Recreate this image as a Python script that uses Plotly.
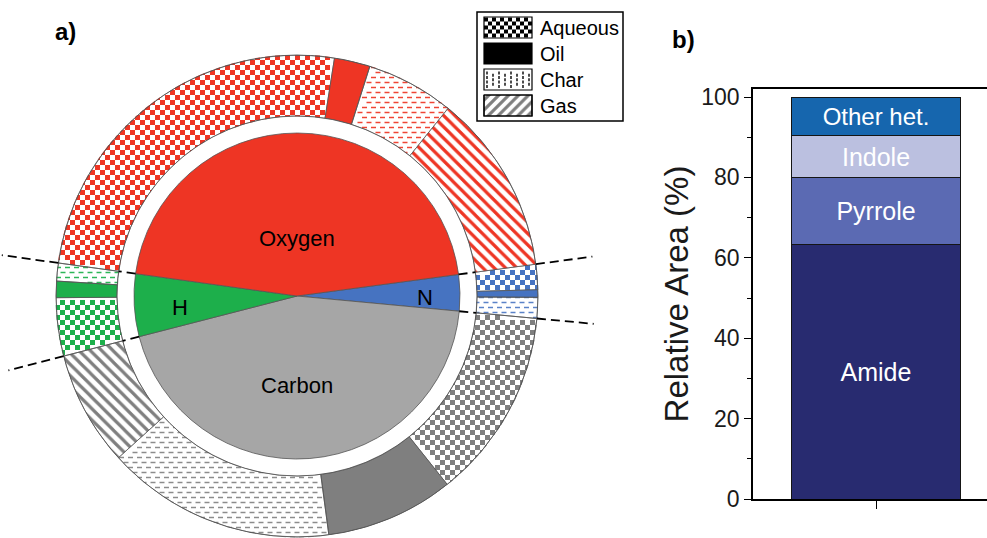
import numpy as np
import plotly.graph_objects as go

W, H = 987, 538
FONT = "Liberation Sans, Arial, Helvetica, sans-serif"

# ---- panel a): share (%) of each element, split over the product phases
elements = ["Oxygen", "H", "Carbon", "N"]
phases = ["Gas", "Char", "Oil", "Aqueous"]
gas_pct = [12.1, 0.0, 7.7, 0.0]
char_pct = [5.9, 1.2, 15.4, 1.4]
oil_pct = [2.4, 1.1, 8.6, 0.5]
aqueous_pct = [25.3, 3.9, 12.8, 1.7]

# ---- panel b): N-heterocycle distribution
n_groups = ["Amide", "Pyrrole", "Indole", "Other het."]
n_area = [63.4, 16.5, 10.6, 9.5]

# ---- styling
pie_colors = {"Oxygen": "#EE3524", "H": "#1DAF4B", "Carbon": "#A6A6A6", "N": "#4673C1"}
ring_colors = {"Oxygen": "#EE3524", "H": "#1DAF4B", "Carbon": "#7F7F7F", "N": "#4673C1"}
dash_colors = {"Oxygen": "#EF4535", "H": "#2DB658", "Carbon": "#8C8C8C", "N": "#5A82C8"}
n_colors = ["#282B70", "#5B6AB3", "#BBC0E0", "#1666AE"]
n_text_size = [25, 25, 25, 24]
EDGE = "#555555"

# geometry of the donut (pixels, y downwards)
CX, CY = 297, 296
R_PIE, R_HOLE, R_RING = 163, 180, 241
START = 7.6  # polar angle (deg) of the N / Oxygen boundary

phase_pct = dict(zip(phases, [gas_pct, char_pct, oil_pct, aqueous_pct]))
element_pct = [sum(phase_pct[p][i] for p in phases) for i in range(len(elements))]

# slices are laid clockwise from START: N, Carbon, H, Oxygen (phases Aqueous -> Gas)
order = list(reversed(range(len(elements))))
ring = [(elements[i], p, phase_pct[p][i]) for i in order
        for p in reversed(phases) if phase_pct[p][i] > 0]
inner_labels = [elements[i] for i in order]
inner_values = [element_pct[i] for i in order]


def sweep(values):
    edges = START - 3.6 * np.concatenate([[0.0], np.cumsum(values)])
    return list(zip(edges[1:], edges[:-1]))


ring_spans = sweep([v for _, _, v in ring])
pie_spans = sweep(inner_values)


def disc(r):
    return dict(x=[(CX - r) / W, (CX + r) / W],
                y=[1 - (CY + r) / H, 1 - (CY - r) / H])


def polar(px, py):
    return np.degrees(np.arctan2(CY - py, px - CX)), np.hypot(px - CX, py - CY)


def in_span(t, a0, a1, tol=0.0):
    return ((t - (a0 - tol)) % 360.0) <= (a1 - a0 + 2 * tol)


fig = go.Figure()

# ---- textures drawn underneath the transparent ring slices
CELL = 5
DASH = 5  # dash length of the char texture
lo, hi = int((CX - R_RING) // CELL) - 1, int((CX + R_RING) // CELL) + 2
lo_y, hi_y = int((CY - R_RING) // CELL) - 1, int((CY + R_RING) // CELL) + 2
for (el, ph, v), (a0, a1) in zip(ring, ring_spans):
    color = ring_colors[el]
    xs, ys = [], []
    if ph == "Aqueous":
        for i in range(lo, hi):
            for j in range(lo_y, hi_y):
                if (i + j) % 2:
                    continue
                x, y = i * CELL + CELL / 2, j * CELL + CELL / 2
                t, r = polar(x, y)
                if not (R_HOLE - 2.5 <= r <= R_RING + 2.5):
                    continue
                ok = True
                for dx in (-CELL / 2, CELL / 2):
                    for dy in (-CELL / 2, CELL / 2):
                        tc, rc = polar(x + dx, y + dy)
                        if not in_span(tc, a0, a1, np.degrees(0.8 / rc)):
                            ok = False
                if ok:
                    xs.append(x)
                    ys.append(y)
        fig.add_trace(go.Scatter(x=xs, y=ys, mode="markers", hoverinfo="skip",
                                 showlegend=False,
                                 marker=dict(symbol="square", size=CELL, color=color,
                                             line=dict(width=0))))
    elif ph == "Char":
        DX, DY = 9, 5
        for j in range(int((CY - R_RING) // DY) - 1, int((CY + R_RING) // DY) + 2):
            y = j * DY + 2.5
            off = (j % 2) * DX / 2
            for i in range(int((CX - R_RING) // DX) - 2, int((CX + R_RING) // DX) + 2):
                x = i * DX + off
                t, r = polar(x, y)
                if not (R_HOLE - 1 <= r <= R_RING + 1):
                    continue
                tl, _ = polar(x - DASH / 2, y)
                tr, _ = polar(x + DASH / 2, y)
                if in_span(tl, a0, a1) and in_span(tr, a0, a1) and in_span(t, a0, a1):
                    xs.append(x)
                    ys.append(y)
        # line-ew markers span 1.4 * size
        fig.add_trace(go.Scatter(x=xs, y=ys, mode="markers", hoverinfo="skip",
                                 showlegend=False,
                                 marker=dict(symbol="line-ew", size=DASH / 1.4,
                                             line=dict(width=1.5, color=dash_colors[el]))))

# ---- outer ring: phase split of every element
fill, shape, fg, bg = [], [], [], []
for el, ph, v in ring:
    c = ring_colors[el]
    if ph == "Oil":
        fill.append(c); shape.append(""); fg.append(c); bg.append(c)
    elif ph == "Gas":
        fill.append("white"); shape.append("\\"); fg.append(c); bg.append("white")
    else:
        fill.append("rgba(0,0,0,0)"); shape.append(""); fg.append(c); bg.append("rgba(0,0,0,0)")

fig.add_trace(go.Pie(
    labels=[f"{el} - {ph}" for el, ph, _ in ring],
    values=[v for _, _, v in ring],
    domain=disc(R_RING), hole=R_HOLE / R_RING,
    sort=False, direction="clockwise", rotation=90 - START,
    textinfo="none", hoverinfo="skip", showlegend=False,
    marker=dict(colors=fill, line=dict(color=EDGE, width=0.8),
                pattern=dict(shape=shape, fgcolor=fg, bgcolor=bg,
                             size=8, solidity=0.4, fillmode="replace")),
))

# ---- inner pie: elemental composition
fig.add_trace(go.Pie(
    labels=inner_labels, values=inner_values,
    domain=disc(R_PIE),
    sort=False, direction="clockwise", rotation=90 - START,
    textinfo="none", hoverinfo="skip", showlegend=False,
    marker=dict(colors=[pie_colors[e] for e in inner_labels],
                line=dict(color=EDGE, width=0.8)),
))

shapes = []


def circle(r, color, width):
    return dict(type="circle", xref="x", yref="y", x0=CX - r, x1=CX + r,
                y0=CY - r, y1=CY + r, line=dict(color=color, width=width),
                fillcolor="rgba(0,0,0,0)", layer="above")


# trim the texture overflow at the ring rims and redraw the rims
shapes.append(circle(R_RING + 4, "white", 7))
shapes.append(circle(R_HOLE - 4, "white", 7))
shapes.append(circle(R_RING, EDGE, 0.8))
shapes.append(circle(R_HOLE, EDGE, 0.8))

# dashed guides along the element boundaries
for a0, a1 in pie_spans:
    th = np.radians(a1)
    for r0, r1 in ((R_PIE, R_HOLE), (R_RING, 298)):
        shapes.append(dict(type="line", xref="x", yref="y", layer="above",
                           x0=CX + r0 * np.cos(th), y0=CY - r0 * np.sin(th),
                           x1=CX + r1 * np.cos(th), y1=CY - r1 * np.sin(th),
                           line=dict(color="black", width=1.8, dash="9px,5px")))

# ---- phase legend (patterned swatches)
LX0, LX1 = 484, 532
tops = [17, 43, 69, 95]
SH = 21
legend_names = ["Aqueous", "Oil", "Char", "Gas"]
shapes.append(dict(type="rect", xref="x", yref="y", x0=477, x1=623, y0=12, y1=121,
                   line=dict(color="black", width=1.5), fillcolor="rgba(0,0,0,0)"))
# aqueous: checkerboard
cx_, cy_ = [], []
for i in range(12):
    for j in range(5):
        if (i + j) % 2 == 0:
            cx_.append(LX0 + 4 * i + 2)
            cy_.append(tops[0] + 0.5 + 4 * j + 2)
fig.add_trace(go.Scatter(x=cx_, y=cy_, mode="markers", hoverinfo="skip", showlegend=False,
                         marker=dict(symbol="square", size=4, color="black", line=dict(width=0))))
# char: short vertical dashes in columns
cx_, cy_ = [], []
for i in range(8):
    for j in range(4):
        y = tops[2] + 4 + 4.5 * j + (2.2 if i % 2 else 0)
        if y < tops[2] + SH - 2:
            cx_.append(LX0 + 3 + 6 * i)
            cy_.append(y)
fig.add_trace(go.Scatter(x=cx_, y=cy_, mode="markers", hoverinfo="skip", showlegend=False,
                         marker=dict(symbol="line-ns", size=2.2, line=dict(width=1.4, color="black"))))
# gas: diagonal hatch
fig.add_trace(go.Scatter(x=[LX0, LX1, LX1, LX0, LX0],
                         y=[tops[3], tops[3], tops[3] + SH, tops[3] + SH, tops[3]],
                         mode="lines", fill="toself", fillcolor="white", hoverinfo="skip",
                         showlegend=False, line=dict(color="black", width=1.2),
                         fillpattern=dict(shape="/", fgcolor="black", bgcolor="white",
                                          size=7, solidity=0.45)))
for k, top in enumerate(tops):
    shapes.append(dict(type="rect", xref="x", yref="y", x0=LX0, x1=LX1, y0=top, y1=top + SH,
                       line=dict(color="black", width=1.2),
                       fillcolor="black" if legend_names[k] == "Oil" else "rgba(0,0,0,0)"))

annotations = []
for name, top in zip(legend_names, tops):
    annotations.append(dict(x=538, y=top + SH / 2, xref="x", yref="y", text=name,
                            showarrow=False, xanchor="left", yanchor="middle",
                            font=dict(family=FONT, size=20, color="black")))

# element labels on the inner pie
for txt, x, y in [("Oxygen", 297, 238), ("H", 180, 307), ("N", 425, 297), ("Carbon", 297, 385)]:
    annotations.append(dict(x=x, y=y, xref="x", yref="y", text=txt, showarrow=False,
                            xanchor="center", yanchor="middle",
                            font=dict(family=FONT, size=22, color="black")))

# panel tags
annotations.append(dict(x=65, y=31, xref="x", yref="y", text="<b>a)</b>", showarrow=False,
                        font=dict(family=FONT, size=24, color="black")))
annotations.append(dict(x=683, y=39, xref="x", yref="y", text="<b>b)</b>", showarrow=False,
                        font=dict(family=FONT, size=24, color="black")))

# ---- panel b): stacked bar
for name, val, col, ts in zip(n_groups, n_area, n_colors, n_text_size):
    fig.add_trace(go.Bar(
        x=[1], y=[val], width=0.691, xaxis="x2", yaxis="y2",
        marker=dict(color=col, line=dict(color="#151515", width=1)),
        text=[name], textposition="inside", insidetextanchor="middle", textangle=0,
        textfont=dict(family=FONT, size=ts, color="white"),
        hoverinfo="skip", showlegend=False,
    ))

X2_L = 753
fig.update_layout(
    width=W, height=H,
    margin=dict(l=0, r=0, t=0, b=0, pad=0),
    paper_bgcolor="white", plot_bgcolor="white",
    barmode="stack",
    shapes=shapes, annotations=annotations,
    xaxis=dict(domain=[0, 1], range=[0, W], visible=False, fixedrange=True),
    yaxis=dict(domain=[0, 1], range=[H, 0], visible=False, fixedrange=True),
    xaxis2=dict(domain=[X2_L / W, 1], range=[0.5, 0.5 + (W - X2_L) / 246], anchor="y2",
                showline=True, linecolor="black", linewidth=1.5, mirror=True,
                showgrid=False, zeroline=False, tickvals=[1], ticktext=[""],
                ticks="outside", ticklen=8, tickwidth=1.3, tickcolor="black",
                automargin=False, fixedrange=True),
    yaxis2=dict(domain=[1 - 499 / H, 1 - 89 / H], range=[0, 102], anchor="x2",
                showline=True, linecolor="black", linewidth=1.5, mirror=False,
                showgrid=False, zeroline=False, tickvals=[0, 20, 40, 60, 80, 100],
                ticks="outside", ticklen=7, tickwidth=1.3, tickcolor="black",
                minor=dict(tickvals=[10, 30, 50, 70, 90], ticks="outside", ticklen=4,
                           tickwidth=1.3, tickcolor="black"),
                tickfont=dict(family=FONT, size=23, color="#1a1a1a"),
                title=dict(text="Relative Area (%)", standoff=3,
                           font=dict(family=FONT, size=33, color="#1a1a1a")),
                automargin=False, fixedrange=True),
)

fig.write_html("out.html")
